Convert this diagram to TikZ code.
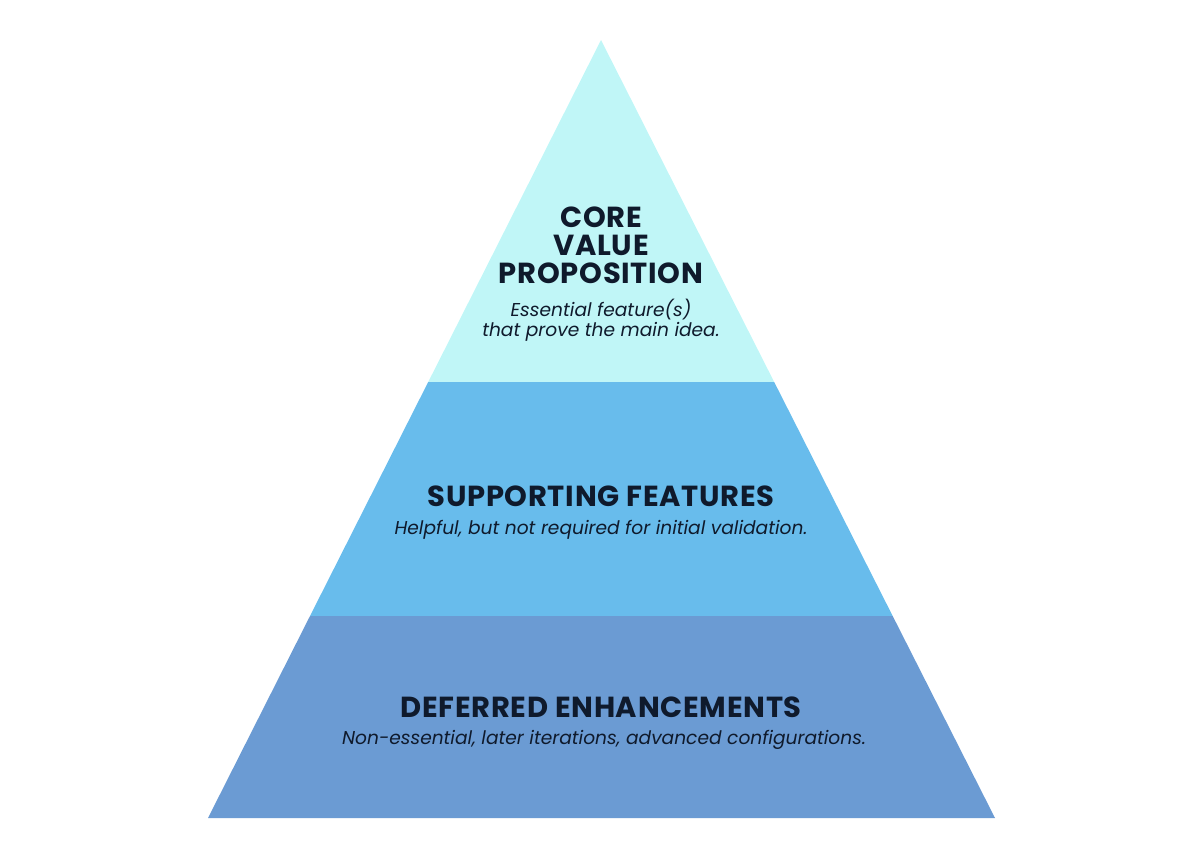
\documentclass[tikz,border=0pt]{standalone}
\usepackage{fontspec}
\usepackage{xcolor}
\setmainfont{Poppins}
\newfontfamily\titlefont[LetterSpace=2.5]{Poppins}

\definecolor{corefill}{HTML}{C0F6F7}
\definecolor{supportfill}{HTML}{68BCEC}
\definecolor{deferfill}{HTML}{6B9BD3}
\definecolor{inkblue}{HTML}{0F1A2C}

\begin{document}
\begin{tikzpicture}[x=0.02cm,y=-0.02cm,
  title/.style={text=inkblue,align=center,inner sep=0pt,font=\titlefont\fontsize{16.5}{15.9}\selectfont\bfseries},
  note/.style={text=inkblue,align=center,inner sep=0pt,font=\fontsize{10.6}{11.4}\selectfont\itshape}]

\useasboundingbox (0,0) rectangle (1200,866);

% pyramid bands
\fill[corefill] (601,40) -- (774.2,382) -- (428.2,382) -- cycle;
\fill[supportfill] (428.2,382) -- (774.2,382) -- (892.7,616) -- (310,616) -- cycle;
\fill[deferfill] (310,616) -- (892.7,616) -- (995,818) -- (208,818) -- cycle;

\node(core) at (601,245)[title] {CORE\\VALUE\\PROPOSITION};
\node(corenote) at (601,320)[note] {Essential feature(s)\\that prove the main idea.};

\node(support) at (601,496)[title] {SUPPORTING FEATURES};
\node(supportnote) at (601,530)[note] {Helpful, but not required for initial validation.};

\node(defer) at (601,707)[title] {DEFERRED ENHANCEMENTS};
\node(defernote) at (604,740)[note] {Non-essential, later iterations, advanced configurations.};

\end{tikzpicture}
\end{document}
